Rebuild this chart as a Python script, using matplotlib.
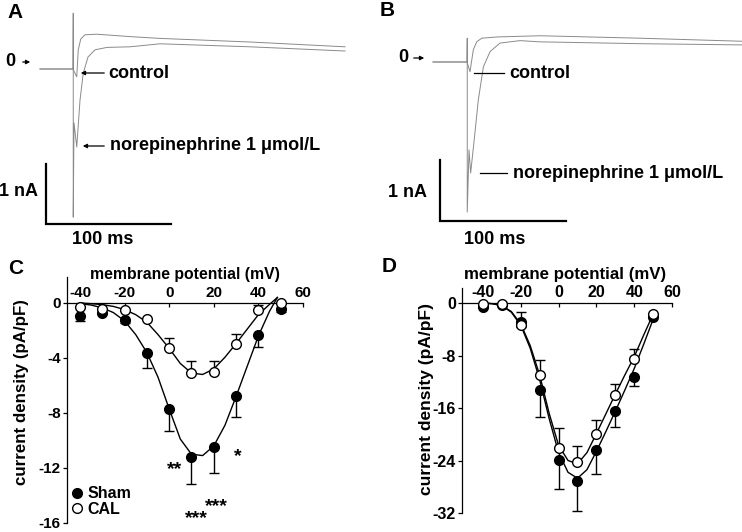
import numpy as np
import matplotlib
matplotlib.use("Agg")
import matplotlib.pyplot as plt

plt.rcParams["font.family"] = ["Liberation Sans", "DejaVu Sans"]
plt.rcParams["font.weight"] = "bold"
plt.rcParams["axes.unicode_minus"] = False

W, H = 742, 532

# ---- A: current traces (time ms, current nA)
a_ctrl_t = [0, 26.4, 29.4, 30.6, 32.6, 36.0, 45.4, 72, 96, 168, 244]
a_ctrl_i = [0, 0, -0.13, 0.32, 0.50, 0.57, 0.58, 0.54, 0.51, 0.45, 0.37]
a_ne_t = [0, 26.4, 26.6, 26.6, 27.2, 29.4, 32.0, 34.6, 38.4, 44.0, 53.6, 72, 96, 168, 244]
a_ne_i = [0, 0, 0.93, -2.47, -0.9, -1.30, -0.52, -0.07, 0.20, 0.32, 0.36, 0.37, 0.42, 0.37, 0.30]

# ---- B: current traces (time ms, current nA)
b_ctrl_t = [0, 27.0, 29.4, 32.0, 34.7, 38.7, 50.6, 85, 164, 245]
b_ctrl_i = [0, 0, -0.16, 0.20, 0.33, 0.39, 0.41, 0.43, 0.39, 0.34]
b_ne_t = [0, 27.0, 27.2, 27.2, 28.6, 29.9, 33.3, 36.0, 40.0, 45.3, 53.2, 69, 85, 164, 245]
b_ne_i = [0, 0, 0.39, -2.46, -1.44, -1.82, -1.16, -0.62, -0.08, 0.17, 0.31, 0.35, 0.33, 0.30, 0.28]

# ---- C: I-V, Sham vs CAL, control
volt = [-40, -30, -20, -10, 0, 10, 20, 30, 40, 50]
c_sham = [-0.96, -0.72, -1.25, -3.66, -7.7, -11.2, -10.5, -6.74, -2.33, -0.43]
c_sham_sem = [0.32, 0.1, 0.2, 1.06, 1.6, 2.0, 1.9, 1.56, 0.85, 0.25]
c_cal = [-0.29, -0.43, -0.53, -1.15, -3.25, -5.1, -5.05, -2.96, -0.48, 0.0]
c_cal_sem = [0, 0, 0, 0, 0.68, 0.85, 0.8, 0.67, 0.36, 0]

fit_v = [-40, -35, -30, -25, -20, -15, -10, -5, 0, 5, 10, 15, 20, 25, 30, 35, 40, 45, 48.5]
c_sham_fit = [-0.05, -0.15, -0.35, -0.7, -1.3, -2.3, -3.6, -5.4, -7.7, -9.9, -11.0, -11.1,
              -10.4, -8.9, -6.8, -4.6, -2.4, -0.6, 0.4]
c_cal_fit = [0, -0.05, -0.12, -0.25, -0.48, -0.85, -1.4, -2.3, -3.3, -4.4, -5.1, -5.2,
             -4.8, -3.95, -2.95, -1.9, -0.85, -0.1, 0.4]

# ---- D: I-V, Sham vs CAL, norepinephrine
d_sham = [-0.55, -0.3, -2.9, -13.3, -23.9, -27.1, -22.4, -16.5, -11.3, -2.2]
d_sham_sem = [0, 0, 0.8, 4.0, 4.5, 4.6, 3.7, 2.4, 1.4, 0]
d_cal = [-0.15, -0.15, -3.4, -11.0, -22.05, -24.3, -19.9, -14.0, -8.5, -1.7]
d_cal_sem = [0, 0, 2.0, 2.3, 2.95, 2.5, 2.1, 1.6, 1.45, 0]

fit_v2 = [-40, -35, -30, -25, -20, -15, -10, -5, 0, 5, 10, 15, 20, 25, 30, 35, 40, 45, 50]
d_sham_fit = [0, -0.1, -0.4, -1.4, -3.4, -6.9, -11.7, -17.6, -22.8, -25.8, -26.7, -25.4,
              -22.6, -19.6, -16.5, -13.3, -10.0, -6.3, -2.5]
d_cal_fit = [0, -0.1, -0.4, -1.3, -3.2, -6.5, -11.0, -16.8, -21.7, -24.0, -24.5, -22.8,
             -19.9, -16.9, -13.9, -11.0, -8.2, -4.9, -1.7]


def px_axes(fig, x0, y0, x1, y1):
    return fig.add_axes([x0 / W, 1 - y1 / H, (x1 - x0) / W, (y1 - y0) / H])


def ftext(fig, x, y, s, size=13, ha="left", va="center"):
    fig.text(x / W, 1 - y / H, s, fontsize=size, ha=ha, va=va, fontweight="bold")


def fline(fig, x0, x1, y, arrow=False):
    if arrow:
        fig.add_artist(matplotlib.patches.FancyArrowPatch(
            (x0 / W, 1 - y / H), (x1 / W, 1 - y / H), transform=fig.transFigure,
            arrowstyle="-|>", mutation_scale=6, lw=0.9, color="black"))
    else:
        fig.add_artist(matplotlib.lines.Line2D([x0 / W, x1 / W], [1 - y / H, 1 - y / H],
                                               transform=fig.transFigure, lw=0.9, color="black"))


def trace_panel(ax, ct, ci, nt, ni, xlim, ylim, bar_t, bar_i):
    ax.plot(ct, ci, color="#8a8a8a", lw=0.7)
    ax.plot(nt, ni, color="#8a8a8a", lw=0.7)
    # scale bars: 1 nA, 100 ms
    ax.plot([bar_t, bar_t, bar_t + 100], [bar_i + 1, bar_i, bar_i], color="black", lw=1.6,
            solid_joinstyle="miter")
    ax.set_xlim(*xlim)
    ax.set_ylim(*ylim)
    ax.axis("off")


def iv_panel(ax, sham, sham_sem, cal, cal_sem, fv, sfit, cfit, xlim, ylim, yticks, tsize):
    ax.plot(fv, sfit, color="black", lw=1.0, zorder=2)
    ax.plot(fv, cfit, color="black", lw=1.0, zorder=2)
    z = np.zeros(len(volt))
    ax.errorbar(volt, sham, yerr=[sham_sem, z], fmt="none", ecolor="black", elinewidth=1.0,
                capsize=3.5, capthick=1.0, zorder=3)
    ax.errorbar(volt, cal, yerr=[z, cal_sem], fmt="none", ecolor="black", elinewidth=1.0,
                capsize=3.5, capthick=1.0, zorder=3)
    hs, = ax.plot(volt, sham, "o", color="black", ms=7, mec="black", zorder=4, label="Sham")
    hc, = ax.plot(volt, cal, "o", mfc="white", mec="black", mew=1.0, ms=7, zorder=5, label="CAL")
    ax.set_xlim(*xlim)
    ax.set_ylim(*ylim)
    ax.spines["right"].set_visible(False)
    ax.spines["bottom"].set_visible(False)
    ax.spines["top"].set_position(("data", 0))
    ax.spines["top"].set_bounds(xlim[0], 60)
    ax.spines["left"].set_bounds(yticks[-1], ylim[1])
    for s in ("top", "left"):
        ax.spines[s].set_linewidth(0.9)
    ax.xaxis.set_ticks_position("top")
    ax.set_xticks([-40, -20, 0, 20, 40, 60])
    ax.set_yticks(yticks)
    ax.set_yticklabels([str(v) for v in yticks])
    ax.tick_params(axis="x", direction="in", length=3, width=0.9, pad=2, labelsize=tsize)
    ax.tick_params(axis="y", direction="out", length=3, width=0.9, pad=1.5, labelsize=tsize)
    for lab in ax.get_xticklabels() + ax.get_yticklabels():
        lab.set_fontweight("bold")
    ax.patch.set_visible(False)
    return hs, hc


fig = plt.figure(figsize=(W / 100, H / 100), dpi=100)

# ---- A
axA = px_axes(fig, 0, 0, 370, 255)
trace_panel(axA, a_ctrl_t, a_ctrl_i, a_ne_t, a_ne_i, (-32, 264), (-3.1, 1.15), 4.8, -2.58)
ftext(fig, 7, 12, "A", size=15)
ftext(fig, 10, 62, "0", ha="center")
fline(fig, 20, 33, 62, arrow=True)
fline(fig, 107, 78, 73, arrow=True)
ftext(fig, 108, 73, "control")
fline(fig, 107, 80, 146, arrow=True)
ftext(fig, 110, 146, "norepinephrine 1 \u03bcmol/L")
ftext(fig, 38, 192, "1 nA", ha="right")
ftext(fig, 103, 240, "100 ms", ha="center")

# ---- B
axB = px_axes(fig, 370, 0, 742, 255)
trace_panel(axB, b_ctrl_t, b_ctrl_i, b_ne_t, b_ne_i, (-50.0, 245.3), (-3.164, 1.016), 5.6, -2.61)
ftext(fig, 380, 11, "B", size=15)
ftext(fig, 403, 58, "0", ha="center")
fline(fig, 411, 427, 58, arrow=True)
fline(fig, 474, 504, 73)
ftext(fig, 509, 73, "control")
fline(fig, 480, 507, 173)
ftext(fig, 513, 173, "norepinephrine 1 \u03bcmol/L")
ftext(fig, 427, 193, "1 nA", ha="right")
ftext(fig, 495, 239, "100 ms", ha="center")

# ---- C
axC = px_axes(fig, 67, 277, 303, 525)
hs, hc = iv_panel(axC, c_sham, c_sham_sem, c_cal, c_cal_sem, fit_v, c_sham_fit, c_cal_fit,
                  (-45.8, 60), (-16.15, 1.89), [0, -4, -8, -12, -16], 11)
ftext(fig, 8, 268, "C", size=15)
axC.set_xlabel("membrane potential (mV)", fontsize=11.3, fontweight="bold", va="center", ha="center")
axC.xaxis.set_label_position("top")
axC.xaxis.set_label_coords(185 / W, 1 - 279 / H, transform=fig.transFigure)
axC.set_ylabel("current density (pA/pF)", fontsize=12.2, fontweight="bold", va="center", ha="center")
axC.yaxis.set_label_coords(22 / W, 1 - 392 / H, transform=fig.transFigure)
axC.legend(handles=[hs, hc], loc="lower left", bbox_to_anchor=(73 / W, 1 - 517 / H),
           bbox_transform=fig.transFigure, frameon=False, handlelength=0.5, handletextpad=0.4,
           labelspacing=0.05, borderaxespad=0, borderpad=0,
           prop={"size": 11.5, "weight": "bold"})
for s, v, y in [("**", 2.5, -12.1), ("*", 30.9, -11.2), ("***", 21.2, -14.8), ("***", 12.0, -15.7)]:
    axC.text(v, y, s, fontsize=14, fontweight="bold", ha="center", va="center")

# ---- D
axD = px_axes(fig, 462, 288, 672, 514)
iv_panel(axD, d_sham, d_sham_sem, d_cal, d_cal_sem, fit_v2, d_sham_fit, d_cal_fit,
         (-51.1, 60), (-32.15, 2.29), [0, -8, -16, -24, -32], 11.5)
ftext(fig, 382, 267, "D", size=15)
axD.set_xlabel("membrane potential (mV)", fontsize=12.2, fontweight="bold", va="center", ha="center")
axD.xaxis.set_label_position("top")
axD.xaxis.set_label_coords(565 / W, 1 - 279 / H, transform=fig.transFigure)
axD.set_ylabel("current density (pA/pF)", fontsize=12.5, fontweight="bold", va="center", ha="center")
axD.yaxis.set_label_coords(427 / W, 1 - 399 / H, transform=fig.transFigure)

fig.savefig("out.png", dpi=100)
